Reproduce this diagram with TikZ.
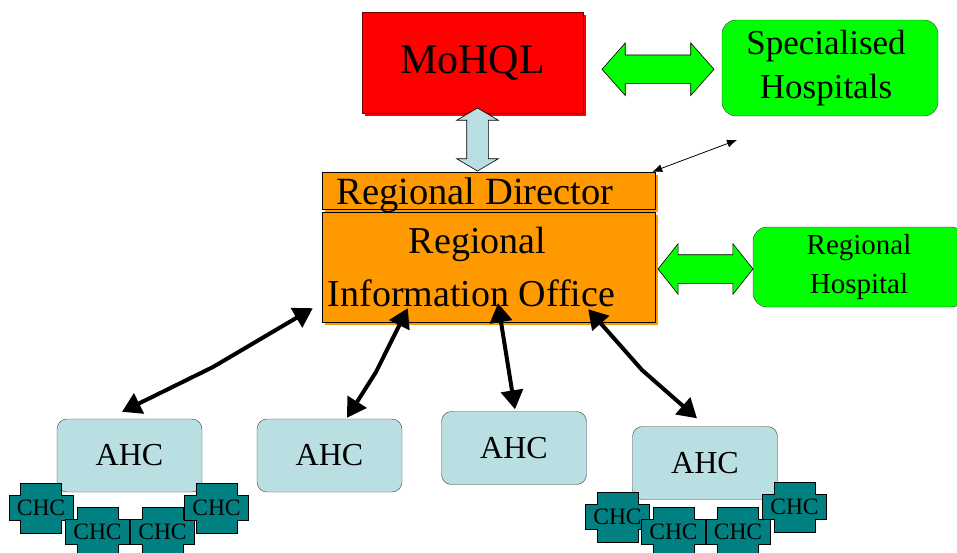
\documentclass[tikz,border=0pt]{standalone}
\usepackage{fontspec}
\setmainfont{Liberation Serif}
\usetikzlibrary{arrows.meta,calc,shapes.arrows,shadows}
\definecolor{Ministry}{HTML}{FF0000}
\definecolor{MinistryEdge}{HTML}{6E0000}
\definecolor{Office}{HTML}{FF9900}
\definecolor{Hospital}{HTML}{00FF00}
\definecolor{Centre}{HTML}{BADFE3}
\definecolor{Clinic}{HTML}{008080}
\definecolor{Edge}{HTML}{3C3C3C}
\tikzset{
  office/.style={draw=black,fill=Office,minimum width=333pt,inner sep=0pt,
    drop shadow={shadow xshift=2.5pt,shadow yshift=-2.5pt,fill=Office,opacity=1}},
  hospital/.style={draw=Edge,fill=Hospital,rounded corners=14pt,align=center,inner sep=0pt},
  ahcbox/.style={draw=Edge,fill=Centre,rounded corners=10pt,minimum width=145pt,
    minimum height=73pt,font=\fontsize{32}{38}\selectfont},
  chcshape/.style={draw=black,fill=Clinic,line width=0.6pt},
  chctext/.style={font=\fontsize{23.5}{28}\selectfont,inner sep=0pt},
  link/.style={line width=4pt,{Triangle[length=19pt,width=22pt]}-{Triangle[length=19pt,width=22pt]}},
  pointer/.style={line width=0.8pt,{Latex[length=10pt,width=8pt]}-{Latex[length=10pt,width=8pt]}},
  blockarrow/.style={double arrow,draw=black,inner xsep=0pt,line width=0.6pt}
}
\newcommand{\chcbox}[3]{%
  \draw[chcshape] (#2,#3) ++(-32,-12.5) -- ++(11.5,0) -- ++(0,-12.5) -- ++(41,0)
    -- ++(0,12.5) -- ++(11.5,0) -- ++(0,25) -- ++(-11.5,0) -- ++(0,12.5)
    -- ++(-41,0) -- ++(0,-12.5) -- ++(-11.5,0) -- cycle;
  \node[chctext] (#1) at (#2,#3) {CHC};}

\begin{document}
\begin{tikzpicture}[x=1pt,y=-1pt]
  \useasboundingbox (0,0) rectangle (957,552);
  \node[draw=MinistryEdge,fill=Ministry,minimum width=221pt,minimum height=101pt,
    drop shadow={shadow xshift=3pt,shadow yshift=-3pt,fill=Ministry,opacity=1},
    font=\fontsize{42}{50}\selectfont] (mohql) at (472.5,62.5) {MoHQL};
  \node[office,minimum height=37pt,text height=27pt,text depth=0pt,font=\fontsize{38.5}{44}\selectfont]
    (dir) at (488.5,190.5) {Regional Director\hspace*{27pt}};
  \node[office,minimum height=110pt,align=center,font=\fontsize{38}{53}\selectfont] (rio) at (488.5,267)
    {Regional\hspace*{22pt}\\Information Office\hspace*{34pt}};
  \node[hospital,minimum width=216pt,minimum height=96pt,font=\fontsize{35}{44}\selectfont] (spec) at (830,68)
    {Specialised\hspace*{8pt}\\Hospitals\hspace*{8pt}};
  \node[hospital,minimum width=212pt,minimum height=80pt,font=\fontsize{29}{39}\selectfont] (rhosp) at (859,267)
    {Regional\\Hospital};

  \node[blockarrow,fill=Centre,rotate=90,minimum height=63pt,inner ysep=10.5pt,
    double arrow head extend=10pt,double arrow tip angle=119] (up) at ($(mohql.south)!0.5!(dir.north)+(-3,-3)$) {};
  \node[blockarrow,fill=Hospital,minimum height=112pt,inner ysep=14pt,
    double arrow head extend=12pt,double arrow tip angle=97] (toSpec) at ($(mohql.east)!0.5!(spec.west)+(5.5,4)$) {};
  \node[blockarrow,fill=Hospital,minimum height=95pt,inner ysep=14pt,
    double arrow head extend=11pt,double arrow tip angle=103] (toHosp) at ($(rio.east)!0.5!(rhosp.west)+(1.5,2)$) {};

  \coordinate (away) at (737,140);
  \draw[pointer] ([xshift=-3pt]dir.north east) -- (away);

  \foreach \n/\x/\y in {ahc1/129.5/455.5,ahc2/329.5/455.5,ahc3/514/448,ahc4/705/463}{
    \node[ahcbox] (\n) at (\x,\y) {AHC};
  }
  \foreach \n/\x/\y in {chc1/41/508,chc2/97.5/532,chc3/162.5/532,chc4/216.5/508,
    chc5/617.5/517,chc6/673.5/532,chc7/738/532,chc8/794.5/507}{
    \chcbox{\n}{\x}{\y}
  }
  \draw[link] ([xshift=-7.5pt,yshift=7pt]ahc1.north) -- (213,367) -- ([xshift=-9pt,yshift=14pt]rio.south west);
  \draw[link] ([xshift=17.5pt,yshift=1pt]ahc2.north) -- (376,372) -- ([xshift=86pt,yshift=14pt]rio.south west);
  \draw[link] ([xshift=1pt,yshift=2pt]ahc3.north) -- ([xshift=9.5pt,yshift=19pt]rio.south);
  \draw[link] ([xshift=-8pt,yshift=8pt]ahc4.north) -- (642,370) -- ([xshift=-67pt,yshift=13pt]rio.south east);
\end{tikzpicture}
\end{document}
